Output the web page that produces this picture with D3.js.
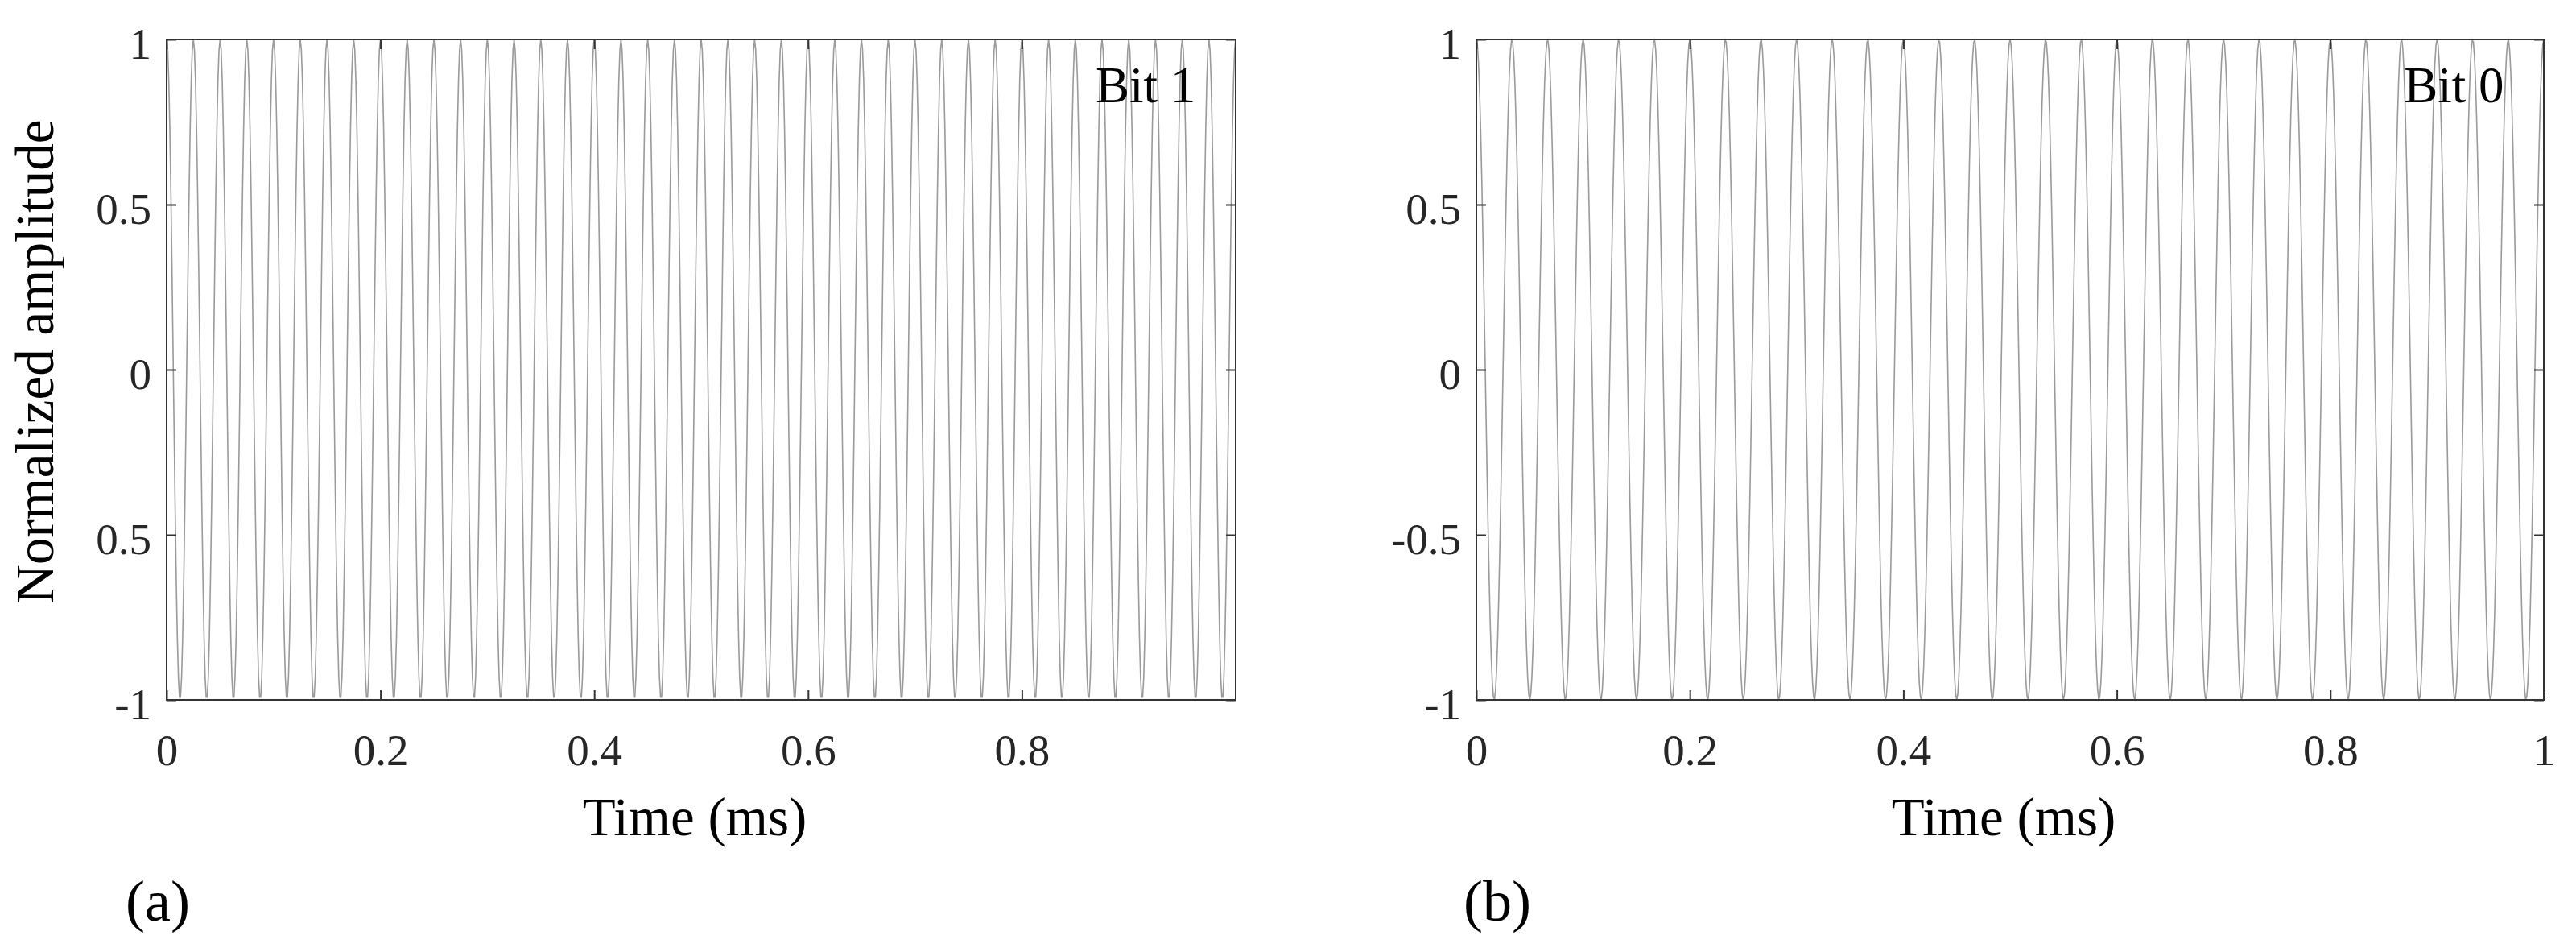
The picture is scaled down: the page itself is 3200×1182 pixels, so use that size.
<!DOCTYPE html>
<html>
<head>
<meta charset="utf-8">
<script src="https://cdn.jsdelivr.net/npm/d3@7"></script>
<style>
  html, body { margin: 0; padding: 0; background: #ffffff; }
  svg { display: block; }
  .tick text { font-family: "Liberation Serif", "Times New Roman", serif; fill: #262626; }
</style>
</head>
<body>
<script>
// ---------------- data ----------------
const panelNames     = ["Bit 1", "Bit 0"];
const panelLetters   = ["(a)", "(b)"];
const carrierFreqKHz = [40, 30];           // cycles per ms counted on the plot
const signalDuration = [1, 1];             // ms
const samplesPerMs   = 1000;               // sampling of the plotted waveform
const xTickValues    = [[0, 0.2, 0.4, 0.6, 0.8], [0, 0.2, 0.4, 0.6, 0.8, 1]];
const xTickLabels    = [["0", "0.2", "0.4", "0.6", "0.8"], ["0", "0.2", "0.4", "0.6", "0.8", "1"]];
const yTickValues    = [1, 0.5, 0, -0.5, -1];
const yTickLabels    = [["1", "0.5", "0", "0.5", "-1"], ["1", "0.5", "0", "-0.5", "-1"]];
const xAxisTitle     = "Time (ms)";
const yAxisTitle     = "Normalized amplitude";

// ---------------- layout ----------------
const W = 3200, H = 1182;
const panelLeft  = [207, 1834];
const panelRight = [1535, 3160];
const letterX    = [156, 1818];
const plotTop = 49, plotBottom = 869;
const serif = '"Liberation Serif", "Times New Roman", serif';
const axisColor = "#333333";
const lineColor = "#9a9a9a";

const svg = d3.select("body").append("svg").attr("width", W).attr("height", H);

panelNames.forEach((name, p) => {
  const x = d3.scaleLinear().domain([0, signalDuration[p]]).range([panelLeft[p], panelRight[p]]);
  const y = d3.scaleLinear().domain([-1, 1]).range([plotBottom, plotTop]);

  // waveform samples: s(t) = cos(2*pi*f*t)
  const n = Math.round(signalDuration[p] * samplesPerMs);
  const wave = d3.range(n + 1).map(i => {
    const t = i / samplesPerMs;
    return { t, v: Math.cos(2 * Math.PI * carrierFreqKHz[p] * t) };
  });

  const g = svg.append("g");

  g.append("path")
    .datum(wave)
    .attr("fill", "none")
    .attr("stroke", lineColor)
    .attr("stroke-width", 1.6)
    .attr("d", d3.line().x(d => x(d.t)).y(d => y(d.v)));

  const xLab = xTickLabels[p];
  const yLab = yTickLabels[p];

  // bottom axis
  const xb = g.append("g").attr("transform", `translate(0,${plotBottom})`)
    .call(d3.axisBottom(x).tickValues(xTickValues[p]).tickSizeInner(-12).tickSizeOuter(0)
      .tickFormat((d, i) => xLab[i]));
  xb.select(".domain").remove();
  xb.selectAll(".tick line").attr("stroke", axisColor).attr("stroke-width", 2);
  xb.selectAll(".tick text").attr("y", 81).attr("dy", null).attr("font-size", 55)
    .attr("font-family", serif);

  // top axis (mirrored ticks)
  const xt = g.append("g").attr("transform", `translate(0,${plotTop})`)
    .call(d3.axisTop(x).tickValues(xTickValues[p]).tickSizeInner(-12).tickSizeOuter(0).tickFormat(""));
  xt.select(".domain").remove();
  xt.selectAll(".tick line").attr("stroke", axisColor).attr("stroke-width", 2);

  // left axis
  const yl = g.append("g").attr("transform", `translate(${panelLeft[p]},0)`)
    .call(d3.axisLeft(y).tickValues(yTickValues).tickSizeInner(-12).tickSizeOuter(0)
      .tickFormat((d, i) => yLab[i]));
  yl.select(".domain").remove();
  yl.selectAll(".tick line").attr("stroke", axisColor).attr("stroke-width", 2);
  yl.selectAll(".tick text").attr("x", -19).attr("y", 23).attr("dy", null).attr("font-size", 55)
    .attr("font-family", serif);

  // right axis (mirrored ticks)
  const yr = g.append("g").attr("transform", `translate(${panelRight[p]},0)`)
    .call(d3.axisRight(y).tickValues(yTickValues).tickSizeInner(-12).tickSizeOuter(0).tickFormat(""));
  yr.select(".domain").remove();
  yr.selectAll(".tick line").attr("stroke", axisColor).attr("stroke-width", 2);

  // box
  g.append("rect")
    .attr("x", panelLeft[p]).attr("y", plotTop)
    .attr("width", panelRight[p] - panelLeft[p]).attr("height", plotBottom - plotTop)
    .attr("fill", "none").attr("stroke", axisColor).attr("stroke-width", 2);

  // in-plot label
  g.append("text")
    .attr("x", panelLeft[p] + 0.869 * (panelRight[p] - panelLeft[p]))
    .attr("y", 127)
    .attr("font-family", serif).attr("font-size", 63).attr("fill", "#000")
    .text(name);

  // x axis title
  g.append("text")
    .attr("x", (panelLeft[p] + panelRight[p]) / 2 - 8)
    .attr("y", 1037)
    .attr("text-anchor", "middle")
    .attr("font-family", serif).attr("font-size", 67).attr("fill", "#000")
    .text(xAxisTitle);

  // panel letter
  g.append("text")
    .attr("x", letterX[p])
    .attr("y", 1143)
    .attr("font-family", serif).attr("font-size", 72).attr("fill", "#000")
    .text(panelLetters[p]);
});

// y axis title (left panel only)
svg.append("text")
  .attr("transform", `translate(66,${(plotTop + plotBottom) / 2 - 10}) rotate(-90)`)
  .attr("text-anchor", "middle")
  .attr("font-family", serif).attr("font-size", 67).attr("fill", "#000")
  .text(yAxisTitle);
</script>
</body>
</html>
